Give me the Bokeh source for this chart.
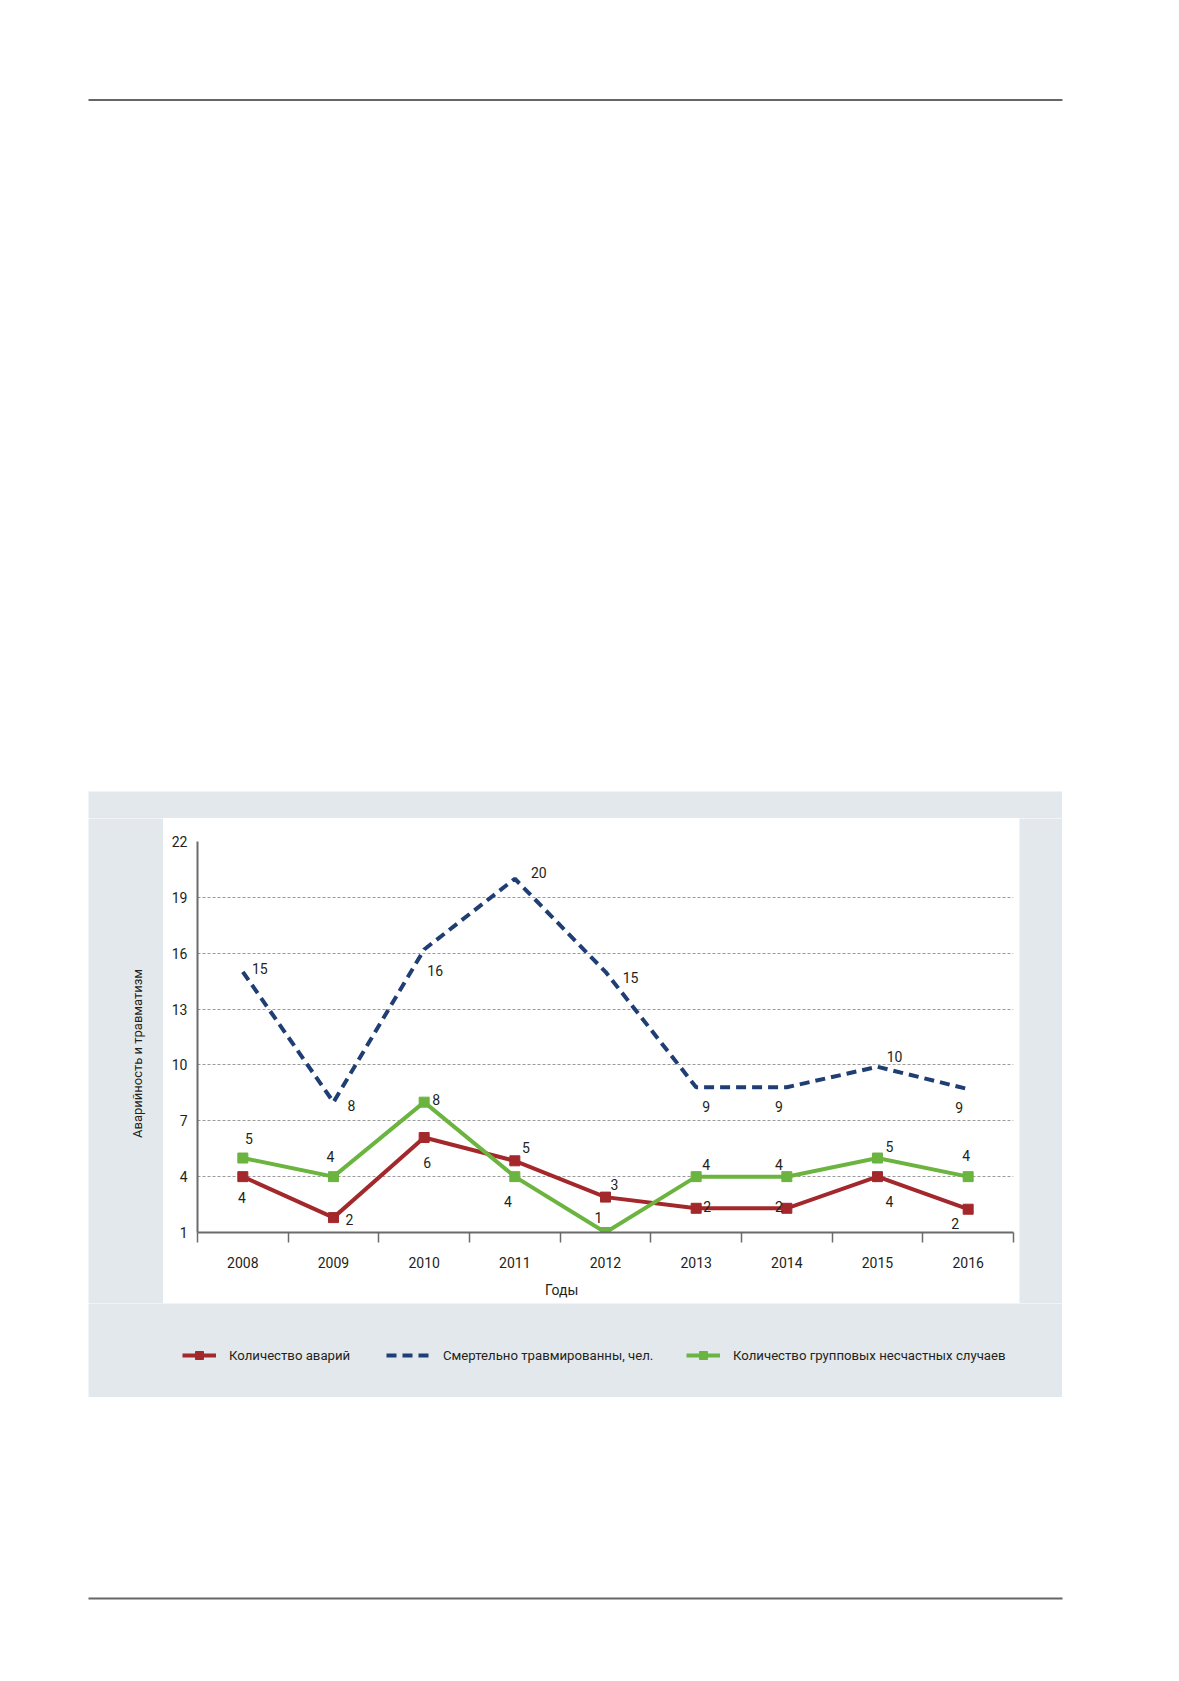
from math import pi
from bokeh.plotting import figure
from bokeh.layouts import row, column
from bokeh.models import (Range1d, FixedTicker, BoxAnnotation, Label, Legend,
                          LegendItem, ColumnDataSource)
from bokeh.core.properties import value
from bokeh.embed import file_html
from bokeh.resources import INLINE

# ---------------- data ----------------
years = ["2008", "2009", "2010", "2011", "2012", "2013", "2014", "2015", "2016"]
accidents = [4, 1.8, 6.1, 4.85, 2.9, 2.3, 2.3, 4, 2.25]
accidents_labels = ["4", "2", "6", "5", "3", "2", "2", "4", "2"]
fatalities = [15, 8, 16.2, 20, 15, 8.8, 8.8, 9.9, 8.7]
fatalities_labels = ["15", "8", "16", "20", "15", "9", "9", "10", "9"]
group_cases = [5, 4, 8, 4, 1, 4, 4, 5, 4]
group_cases_labels = ["5", "4", "8", "4", "1", "4", "4", "5", "4"]
y_ticks = [1, 4, 7, 10, 13, 16, 19, 22]
series_names = ["Количество аварий", "Смертельно травмированны, чел.",
                "Количество групповых несчастных случаев"]
x_title = "Годы"
y_title = "Аварийность и травматизм"

# ---------------- styling / placement ----------------
FONT = "Roboto"
FS = "14px"
LFS = "13.2px"
YFS = "13px"
RED = "#a3282b"
BLUE = "#1f3e73"
GREEN = "#6ab43f"
PANEL = "#e3e8ec"
TXT = "#231f20"
AX = "#6b6b6b"
RULE = "#666666"

# label offsets (screen px, dy positive = down)
red_dx = [-1, 16, 3, 11, 9, 11, -8, 12, -13]
red_dy = [21, 2, 25, -13, -13, -2, -2, 25, 14]
blue_dx = [17, 18, 11, 24, 25, 10, -8, 17, -9]
blue_dy = [-3, 3, 21, -6, 6, 19, 19, -10, 18]
green_dx = [6, -3, 12, -7, -7, 10, -8, 12, -2]
green_dy = [-20, -20, -3, 25, -15, -12, -12, -12, -21]


def blank(w, h, color, xr=None, yr=None):
    f = figure(width=w, height=h, output_backend="svg", toolbar_location=None,
               x_axis_location=None, y_axis_location=None, min_border=0,
               x_range=xr if xr is not None else Range1d(0, w),
               y_range=yr if yr is not None else Range1d(h, 0))
    f.outline_line_color = None
    f.background_fill_color = color
    f.border_fill_color = color
    f.xgrid.visible = False
    f.ygrid.visible = False
    return f


def rule(f, x0, x1, y0, y1):
    f.add_layout(BoxAnnotation(left=x0, right=x1, top=y0, bottom=y1, fill_color=RULE,
                               fill_alpha=1, line_color=None))


# ---------------- page pieces ----------------
top_fig = blank(1108, 791, "white")
rule(top_fig, 88, 1062, 98.5, 100.5)

bottom_fig = blank(1108, 211, "white")
rule(bottom_fig, 88, 1062, 200, 202)

white_l = blank(88, 606, "white")
white_r = blank(46, 606, "white")
gray_top = blank(974, 27, PANEL)
gray_r = blank(43, 485, PANEL)

gray_l = blank(75, 485, PANEL)
gray_l.add_layout(Label(x=49, y=235, text=y_title, angle=pi / 2, text_align="center",
                        text_baseline="middle", text_font=FONT, text_font_size=YFS,
                        text_color=TXT))

title_fig = blank(856, 26, "white")
title_fig.add_layout(Label(x=382, y=12, text=x_title, text_align="center",
                           text_baseline="middle", text_font=FONT, text_font_size=FS,
                           text_color=TXT))

# ---------------- chart ----------------
idx = list(range(len(years)))
p = figure(width=856, height=459, output_backend="svg", toolbar_location=None,
           x_range=Range1d(-0.5, len(years) - 0.5), y_range=Range1d(1, 22),
           min_border_left=34, min_border_right=6, min_border_top=23,
           min_border_bottom=45)
p.border_fill_color = "white"
p.background_fill_color = "white"
p.outline_line_color = None

p.xaxis.ticker = FixedTicker(ticks=idx, minor_ticks=[i - 0.5 for i in range(len(years) + 1)])
p.xaxis.major_label_overrides = {i: y for i, y in zip(idx, years)}
p.xaxis.major_tick_out = 0
p.xaxis.major_tick_in = 0
p.xaxis.minor_tick_out = 10
p.xaxis.minor_tick_in = 0
p.xaxis.minor_tick_line_color = AX
p.xaxis.minor_tick_line_width = 1.5
p.xaxis.axis_line_color = AX
p.xaxis.axis_line_width = 2
p.xaxis.major_label_standoff = 14
p.xaxis.major_label_text_font = FONT
p.xaxis.major_label_text_font_size = FS
p.xaxis.major_label_text_color = TXT

p.yaxis.ticker = FixedTicker(ticks=y_ticks)
p.yaxis.major_tick_out = 0
p.yaxis.major_tick_in = 0
p.yaxis.minor_tick_line_color = None
p.yaxis.axis_line_color = AX
p.yaxis.axis_line_width = 2
p.yaxis.major_label_standoff = 10
p.yaxis.major_label_text_font = FONT
p.yaxis.major_label_text_font_size = FS
p.yaxis.major_label_text_color = TXT

p.xgrid.visible = False
p.ygrid.ticker = FixedTicker(ticks=y_ticks)
p.ygrid.grid_line_color = "#9a9a9a"
p.ygrid.grid_line_dash = "3 2"
p.ygrid.grid_line_width = 1

p.line(idx, accidents, line_color=RED, line_width=4, line_join="miter")
p.scatter(idx, accidents, marker="square", size=10, fill_color=RED, line_color=RED)
p.line(idx, fatalities, line_color=BLUE, line_width=4, line_dash="10 6")
p.line(idx, group_cases, line_color=GREEN, line_width=4, line_join="miter")
p.scatter(idx, group_cases, marker="square", size=10, fill_color=GREEN, line_color=GREEN)

for vals, labs, dx, dy in [(accidents, accidents_labels, red_dx, red_dy),
                           (fatalities, fatalities_labels, blue_dx, blue_dy),
                           (group_cases, group_cases_labels, green_dx, green_dy)]:
    src = ColumnDataSource(dict(x=idx, y=vals, t=labs, dx=dx, dy=dy))
    p.text(x="x", y="y", text="t", x_offset="dx", y_offset="dy", source=src,
           text_align="center", text_baseline="middle", text_font=value(FONT),
           text_font_size=FS, text_color=TXT)

# ---------------- legend strip ----------------
# legend glyph renderers carry the series but lie outside this strip's (empty) view
lf = blank(974, 94, PANEL, xr=Range1d(-30, -20), yr=Range1d(-30, -20))
lr1 = lf.line(idx, accidents, line_color=RED, line_width=4)
lr2 = lf.scatter(idx, accidents, marker="square", size=10, fill_color=RED, line_color=RED)
lb = lf.line(idx, fatalities, line_color=BLUE, line_width=4, line_dash="10 6")
lg1 = lf.line(idx, group_cases, line_color=GREEN, line_width=4)
lg2 = lf.scatter(idx, group_cases, marker="square", size=10, fill_color=GREEN,
                 line_color=GREEN)

leg_specs = [
    (series_names[0], [lr1, lr2], 94, 34, 13),
    (series_names[1], [lb], 298, 43, 14),
    (series_names[2], [lg1, lg2], 598, 34, 13),
]
for name, rends, left, gw, stand in leg_specs:
    lg = Legend(items=[LegendItem(label=name, renderers=rends)],
                location=(left, 32), orientation="horizontal", glyph_width=gw,
                glyph_height=20, label_height=20, label_standoff=stand, padding=0,
                margin=0, spacing=0, border_line_color=None, background_fill_alpha=0,
                label_text_font=FONT, label_text_font_size=LFS, label_text_color=TXT)
    lf.add_layout(lg)

panel = column(gray_top, row(gray_l, column(p, title_fig), gray_r), lf)
page = column(top_fig, row(white_l, panel, white_r), bottom_fig)

open("out.html", "w").write(file_html(page, INLINE))
